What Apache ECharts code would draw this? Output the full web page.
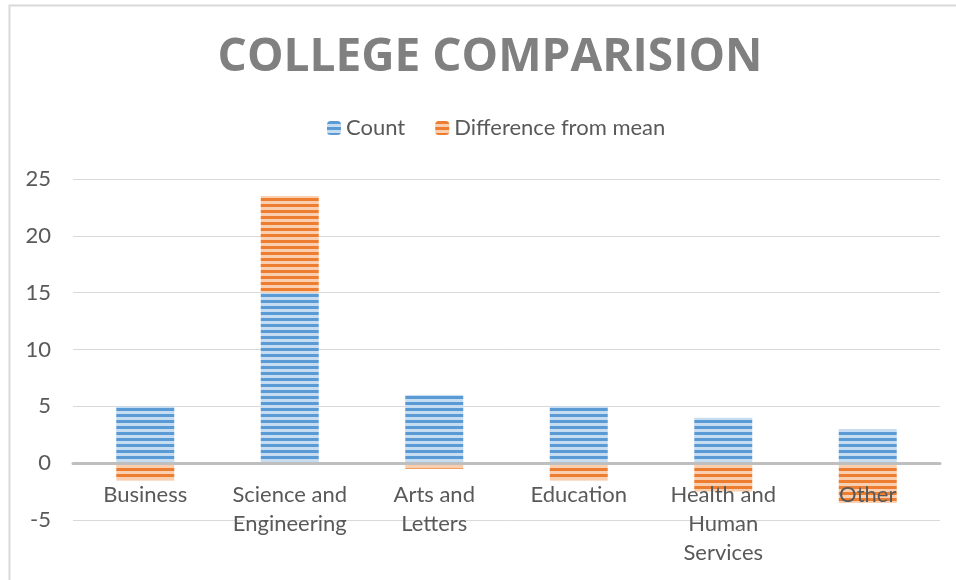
<!DOCTYPE html>
<html><head><meta charset="utf-8">
<script src="https://cdn.jsdelivr.net/npm/echarts@6/dist/echarts.min.js"></script>
<style>html,body{margin:0;padding:0;background:#fff}#c{width:956px;height:580px}</style>
</head><body><div id="c"></div>
<script>
const titleText = 'COLLEGE COMPARISION';
const categories = ['Business', 'Science and Engineering', 'Arts and Letters', 'Education', 'Health and Human Services', 'Other'];
const countValues = [5, 15, 6, 5, 4, 3];
const diffValues = [-1.5, 8.5, -0.5, -1.5, -2.5, -3.5];
const yTicks = [-5, 0, 5, 10, 15, 20, 25];

function stripes(dark, light) {
  const c = document.createElement('canvas');
  c.width = 6; c.height = 6;
  const g = c.getContext('2d');
  g.fillStyle = light; g.fillRect(0, 0, 6, 6);
  g.fillStyle = dark; g.fillRect(0, 0, 6, 3);
  return { image: c, repeat: 'repeat' };
}
const blueP = stripes('#5b9bd5', '#c5dcf1');
const orangeP = stripes('#ed7d31', '#f9cfb0');
const labelBreaks = {'Science and Engineering':'Science and\nEngineering','Arts and Letters':'Arts and\nLetters','Health and Human Services':'Health and\nHuman\nServices'};

const chart = echarts.init(document.getElementById('c'));
chart.setOption({
  animation: false,
  graphic: [{type:'rect', shape:{x:9.5,y:5.5,width:1000,height:1000}, style:{fill:'none', stroke:'#d9d9d9', lineWidth:2}, silent:true}],
  title: { text: titleText, left: 485, textAlign: 'center', top: 30,
    textStyle: { fontFamily: 'Open Sans', fontWeight: 'bold', fontSize: 46, color: '#808080' } },
  legend: { top: 112, left: 322, itemWidth: 14, itemHeight: 14, itemGap: 30,
    textStyle: { fontFamily: 'Lato', fontSize: 22, color: '#595959' },
    data: [{name:'Count', itemStyle:{color: blueP}}, {name:'Difference from mean', itemStyle:{color: orangeP}}] },
  grid: { left: 73, right: 16, top: 179, bottom: 60, containLabel: false, outerBoundsMode: 'none' },
  xAxis: { type: 'category', data: categories, z: 5,
    axisLine: { onZero: true, lineStyle: { color: '#bfbfbf', width: 3 } },
    axisTick: { show: false },
    axisLabel: { fontFamily: 'Lato', fontSize: 22, color: '#595959', margin: -40, lineHeight: 29,
      interval: 0, hideOverlap: false,
      formatter: v => labelBreaks[v] || v } },
  yAxis: { type: 'value', min: yTicks[0], max: yTicks[yTicks.length-1], interval: 5,
    axisLine: { show: false }, axisTick: { show: false },
    splitLine: { lineStyle: { color: '#d9d9d9', width: 1 } },
    axisLabel: { fontFamily: 'Lato', fontSize: 22, color: '#595959', margin: 22 } },
  series: [
    { name: 'Count', type: 'bar', stack: 's', data: countValues, barWidth: 58, itemStyle: { color: blueP } },
    { name: 'Difference from mean', type: 'bar', stack: 's', data: diffValues, barWidth: 58, itemStyle: { color: orangeP } }
  ]
});
</script></body></html>
